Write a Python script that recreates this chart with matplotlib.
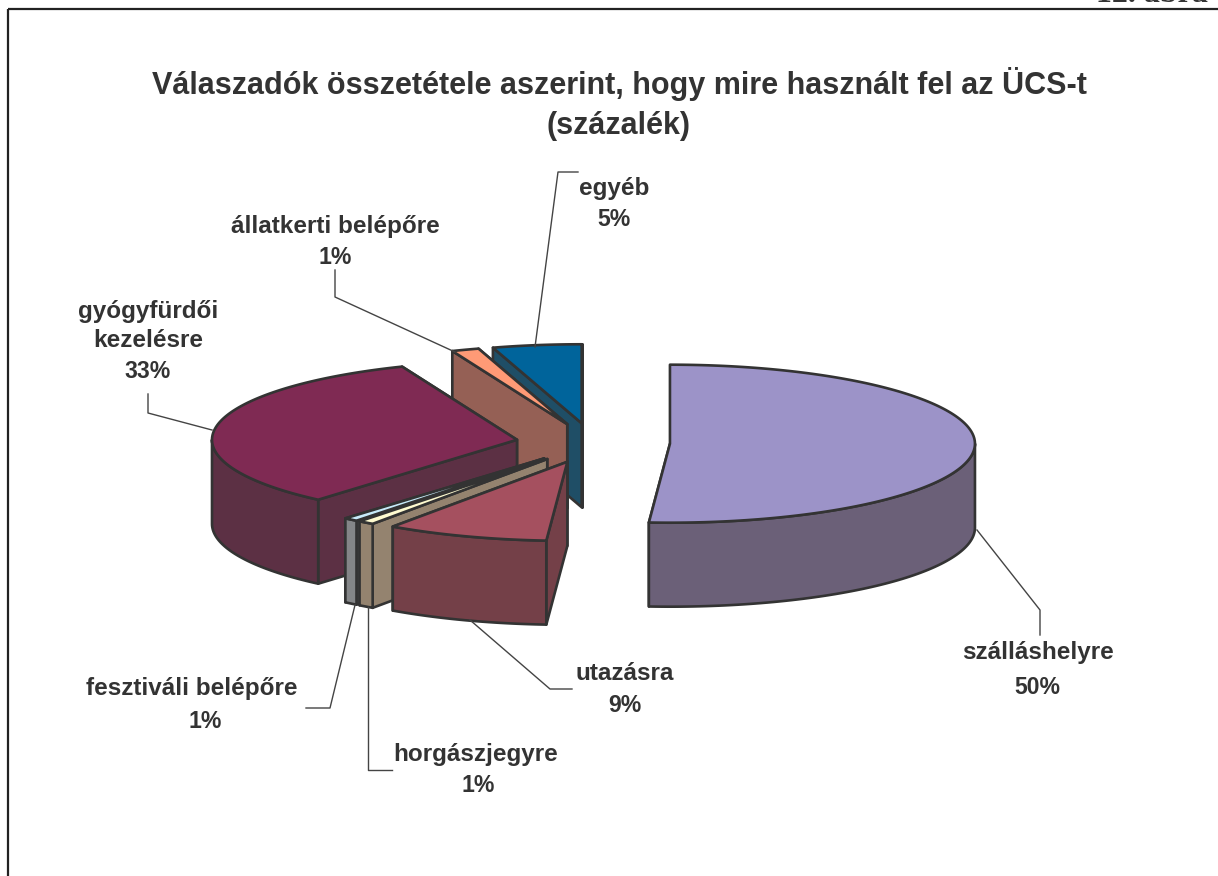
import numpy as np
import matplotlib
matplotlib.use("Agg")
import matplotlib.pyplot as plt
from matplotlib.patches import Polygon

# szelet adatok, az oramutato jarasa szerint 12 oratol
names = ["szálláshelyre", "utazásra", "horgászjegyre", "fesztiváli belépőre",
         "gyógyfürdői\nkezelésre", "állatkerti belépőre", "egyéb"]
shares = [51.1, 8.6, 0.85, 0.75, 32.55, 1.45, 4.7]
pct_labels = ["50%", "9%", "1%", "1%", "33%", "1%", "5%"]
top_colors = ["#9C93C8", "#A5505F", "#FFFBD0", "#C8EBFA", "#7F2A53", "#FF9A76", "#00649B"]
side_colors = ["#6B6078", "#744048", "#94836F", "#848688", "#5C3044", "#956055", "#1F4E66"]
draw_order = [0, 6, 5, 4, 3, 2, 1]

# kep pixelben
cx, cy = 593, 443
rx, ry = 305, 79
explode = 77
depth = 84
edge = "#333333"
lw = 1.9
ink = "#333333"

fig = plt.figure(figsize=(12.18, 8.76), dpi=100)
ax = fig.add_axes([0, 0, 1, 1])
ax.set_xlim(0, 1218)
ax.set_ylim(876, 0)
ax.axis("off")


def pt(a, ox, oy):
    return ox + rx * np.sin(a), oy - ry * np.cos(a)


def face(xy, color, z):
    ax.add_patch(Polygon(xy, closed=True, fc=color, ec=edge, lw=lw, joinstyle="round", zorder=z))


ang = 2 * np.pi * np.cumsum([0] + shares) / sum(shares)
z = 2
for i in draw_order:
    a0, a1 = ang[i], ang[i + 1]
    mid = (a0 + a1) / 2
    ox = cx + explode * np.sin(mid)
    oy = cy - explode * ry / rx * np.cos(mid)

    # sugar iranyu falak, a hatso eloszor
    walls = sorted([a0, a1], key=lambda a: pt(a, ox, oy)[1])
    for a in walls:
        x, y = pt(a, ox, oy)
        face([(ox, oy), (x, y), (x, y + depth), (ox, oy + depth)], side_colors[i], z)
        z += 1

    # ives fal, csak ami elore nez
    lo, hi = max(a0, np.pi / 2), min(a1, 3 * np.pi / 2)
    if hi > lo:
        t = np.linspace(lo, hi, 80)
        x, y = pt(t, ox, oy)
        xy = np.r_[np.c_[x, y], np.c_[x[::-1], y[::-1] + depth]]
        face(xy, side_colors[i], z)
        z += 1

    # teteje
    t = np.linspace(a0, a1, 160)
    x, y = pt(t, ox, oy)
    face(np.r_[[(ox, oy)], np.c_[x, y]], top_colors[i], z)
    z += 1

# keret
ax.plot([8, 8], [876, 9], color="#222222", lw=1.6, solid_capstyle="butt")
ax.plot([8, 1218], [9, 9], color="#222222", lw=1.6, solid_capstyle="butt")

sans = "Liberation Sans"
ax.text(1152, 1.5, "12. ábra", family="Liberation Serif", weight="bold", fontsize=23, color=ink,
        ha="center", va="baseline", clip_on=False)
ax.text(619, 84, "Válaszadók összetétele aszerint, hogy mire használt fel az ÜCS-t",
        family=sans, weight="bold", fontsize=22, color=ink, ha="center", va="center")
ax.text(618, 126, "(százalék)", family=sans, weight="bold", fontsize=22, color=ink, ha="center", va="center")

# cimkek
label_xy = [(1038, 653), (625, 674), (476, 755), (192, 688), (148, 326), (335, 226), (614, 188)]
pct_xy = [(1037, 688), (625, 706), (478, 786), (205, 721), (148, 372), (335, 258), (614, 220)]
for name, pct, (x, y), (px, py) in zip(names, pct_labels, label_xy, pct_xy):
    ax.text(x, y, name, family=sans, weight="bold", fontsize=17.5, color=ink, ha="center", va="center",
            linespacing=1.38, zorder=100)
    ax.text(px, py, pct, family=sans, weight="bold", fontsize=16.6, color=ink, ha="center", va="center", zorder=100)

# vezetovonalak
leaders = [
    [(977, 530), (1040, 610), (1040, 635)],
    [(470, 620), (550, 689), (572, 689)],
    [(368, 607), (368, 770), (392, 770)],
    [(355, 605), (330, 708), (306, 708)],
    [(212, 430), (148, 413), (148, 394)],
    [(455, 352), (335, 297), (335, 270)],
    [(535, 347), (558, 172), (578, 172)],
]
for line in leaders:
    xs, ys = zip(*line)
    ax.plot(xs, ys, color="#444444", lw=1.0, zorder=90)

fig.savefig("out.png", dpi=100)
